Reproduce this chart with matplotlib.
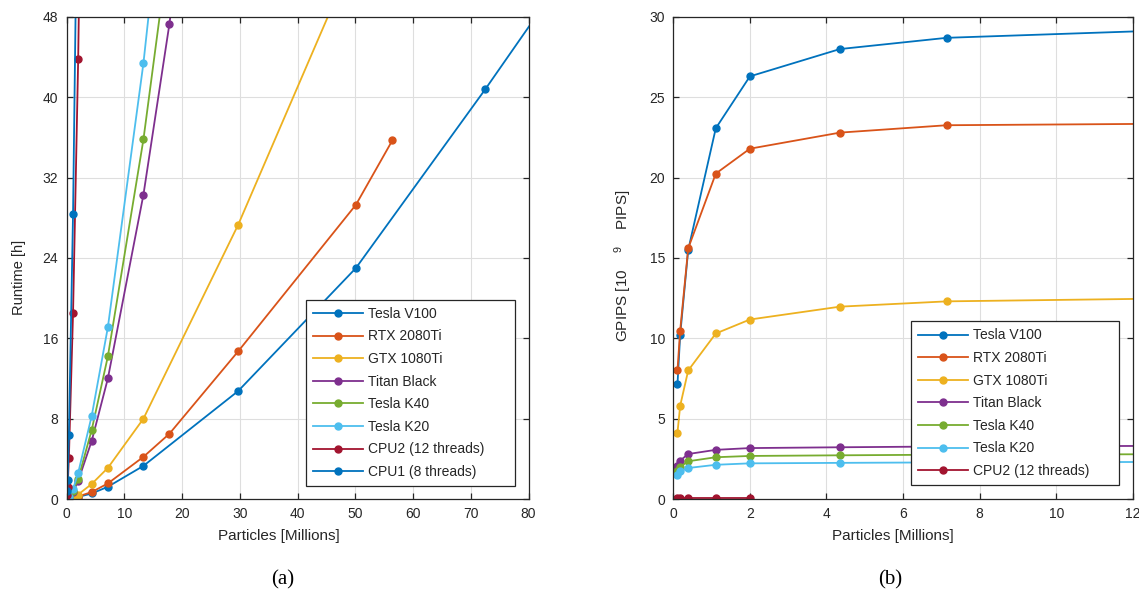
import matplotlib
matplotlib.use("Agg")
import matplotlib.pyplot as plt

# ---------------- data: runtime (left) ----------------
n_v100 = [0.11, 0.18, 0.39, 1.11, 2.0, 4.35, 7.14, 13.3, 29.7, 50.1, 72.5, 100]
t_v100 = [0.01, 0.02, 0.03, 0.10, 0.21, 0.55, 1.22, 3.3, 10.75, 23.0, 40.8, 63.5]
n_rtx = [0.11, 0.18, 0.39, 1.11, 2.0, 4.35, 7.14, 13.3, 17.8, 29.7, 50.1, 56.4]
t_rtx = [0.01, 0.02, 0.03, 0.11, 0.25, 0.7, 1.55, 4.2, 6.5, 14.7, 29.3, 35.7]
n_gtx = [0.11, 0.18, 0.39, 1.11, 2.0, 4.35, 7.14, 13.3, 29.7, 50.1]
t_gtx = [0.02, 0.04, 0.06, 0.22, 0.45, 1.5, 3.1, 8.0, 27.3, 54.5]
n_titan = [0.11, 0.18, 0.39, 1.11, 2.0, 4.35, 7.14, 13.3, 17.8, 29.7]
t_titan = [0.04, 0.08, 0.17, 0.7, 1.8, 5.8, 12.0, 30.3, 47.3, 102]
n_k40 = [0.11, 0.18, 0.39, 1.11, 2.0, 4.35, 7.14, 13.3, 17.8]
t_k40 = [0.04, 0.09, 0.2, 0.8, 2.0, 6.9, 14.2, 35.8, 55.4]
n_k20 = [0.11, 0.18, 0.39, 1.11, 2.0, 4.35, 7.14, 13.3, 17.8]
t_k20 = [0.05, 0.1, 0.25, 1.0, 2.6, 8.3, 17.1, 43.4, 67.2]
n_cpu2 = [0.11, 0.18, 0.39, 1.11, 2.0, 4.35]
t_cpu2 = [0.45, 1.2, 4.1, 18.5, 43.8, 140]
n_cpu1 = [0.11, 0.18, 0.39, 1.11, 2.0]
t_cpu1 = [0.8, 1.9, 6.4, 28.4, 68.7]

# ---------------- data: GPIPS (right) ----------------
n_g = [0.11, 0.18, 0.39, 1.11, 2.0, 4.35, 7.14, 13.3]
g_v100 = [7.13, 10.2, 15.5, 23.07, 26.3, 28.0, 28.7, 29.2]
g_rtx = [8.02, 10.48, 15.6, 20.25, 21.8, 22.8, 23.26, 23.36]
g_gtx = [4.13, 5.8, 8.0, 10.3, 11.17, 11.97, 12.3, 12.49]
g_titan = [2.06, 2.39, 2.8, 3.06, 3.17, 3.22, 3.27, 3.31]
g_k40 = [1.75, 2.0, 2.35, 2.6, 2.68, 2.72, 2.76, 2.79]
g_k20 = [1.48, 1.73, 1.93, 2.13, 2.22, 2.25, 2.28, 2.31]
n_g_cpu2 = [0.11, 0.18, 0.39, 1.11, 2.0]
g_cpu2 = [0.08, 0.08, 0.08, 0.08, 0.08]

labels = ["Tesla V100", "RTX 2080Ti", "GTX 1080Ti", "Titan Black",
          "Tesla K40", "Tesla K20", "CPU2 (12 threads)", "CPU1 (8 threads)"]
colors = ["#0072BD", "#D95319", "#EDB120", "#7E2F8E",
          "#77AC30", "#4DBEEE", "#A2142F", "#0072BD"]

plt.rcParams["font.family"] = ["Liberation Sans", "DejaVu Sans"]
plt.rcParams["mathtext.fontset"] = "custom"
plt.rcParams["mathtext.rm"] = "Liberation Sans"
plt.rcParams["mathtext.it"] = "Liberation Sans:italic"

fig = plt.figure(figsize=(11.39, 6.0), dpi=100)
axL = fig.add_axes([0.0585, 0.1683, 0.4056, 0.8035])
axR = fig.add_axes([0.5911, 0.1683, 0.4036, 0.8035])

txt = "#262626"

def style(ax):
    ax.grid(True, color="#DEDEDE", linewidth=0.8)
    ax.set_axisbelow(True)
    for s in ax.spines.values():
        s.set_color(txt)
        s.set_linewidth(0.9)
    ax.tick_params(direction="in", top=True, right=True, length=4,
                   width=0.9, colors=txt, labelsize=10, pad=6)

lw = 1.3
ms = 5
left_series = [(n_v100, t_v100), (n_rtx, t_rtx), (n_gtx, t_gtx), (n_titan, t_titan),
               (n_k40, t_k40), (n_k20, t_k20), (n_cpu2, t_cpu2), (n_cpu1, t_cpu1)]
pad = " " * 6
for (x, y), c, l in zip(left_series, colors, labels):
    axL.plot(x, y, "-o", color=c, lw=lw, ms=ms, label=l + pad)
axL.set_xlim(0, 80)
axL.set_ylim(0, 48)
axL.set_xticks(range(0, 81, 10))
axL.set_yticks(range(0, 49, 8))
axL.set_xlabel("Particles [Millions]", fontsize=11, color=txt)
axL.set_ylabel("Runtime [h]", fontsize=10.5, color=txt)
axL.xaxis.set_label_coords(0.46, -0.062)
axL.yaxis.set_label_coords(-0.088, 0.46)
style(axL)

right_series = [(n_g, g_v100), (n_g, g_rtx), (n_g, g_gtx), (n_g, g_titan),
                (n_g, g_k40), (n_g, g_k20), (n_g_cpu2, g_cpu2)]
for (x, y), c, l in zip(right_series, colors, labels):
    axR.plot(x, y, "-o", color=c, lw=lw, ms=ms, label=l + pad)
axR.set_xlim(0, 12)
axR.set_ylim(0, 30)
axR.set_xticks(range(0, 13, 2))
axR.set_yticks(range(0, 31, 5))
axR.set_xlabel("Particles [Millions]", fontsize=11, color=txt)
axR.set_ylabel(r"GPIPS [10    $^{9}$    PIPS]", fontsize=11, color=txt)
axR.xaxis.set_label_coords(0.478, -0.062)
axR.yaxis.set_label_coords(-0.086, 0.484)
style(axR)

leg_kw = dict(loc="lower right", fontsize=10, handlelength=3.6, handletextpad=0.35,
              labelspacing=0.62, borderpad=0.5, borderaxespad=0.0,
              fancybox=False, framealpha=1.0, edgecolor=txt)
legL = axL.legend(bbox_to_anchor=(0.970, 0.027), **leg_kw)
legR = axR.legend(bbox_to_anchor=(0.970, 0.029), **leg_kw)
for lg in (legL, legR):
    lg.get_frame().set_linewidth(0.9)
    for t in lg.get_texts():
        t.set_color(txt)

fig.text(0.2485, 0.033, "(a)", fontsize=15, family="Liberation Serif", ha="center", va="center")
fig.text(0.7815, 0.033, "(b)", fontsize=15, family="Liberation Serif", ha="center", va="center")

fig.savefig("out.png", dpi=100)
